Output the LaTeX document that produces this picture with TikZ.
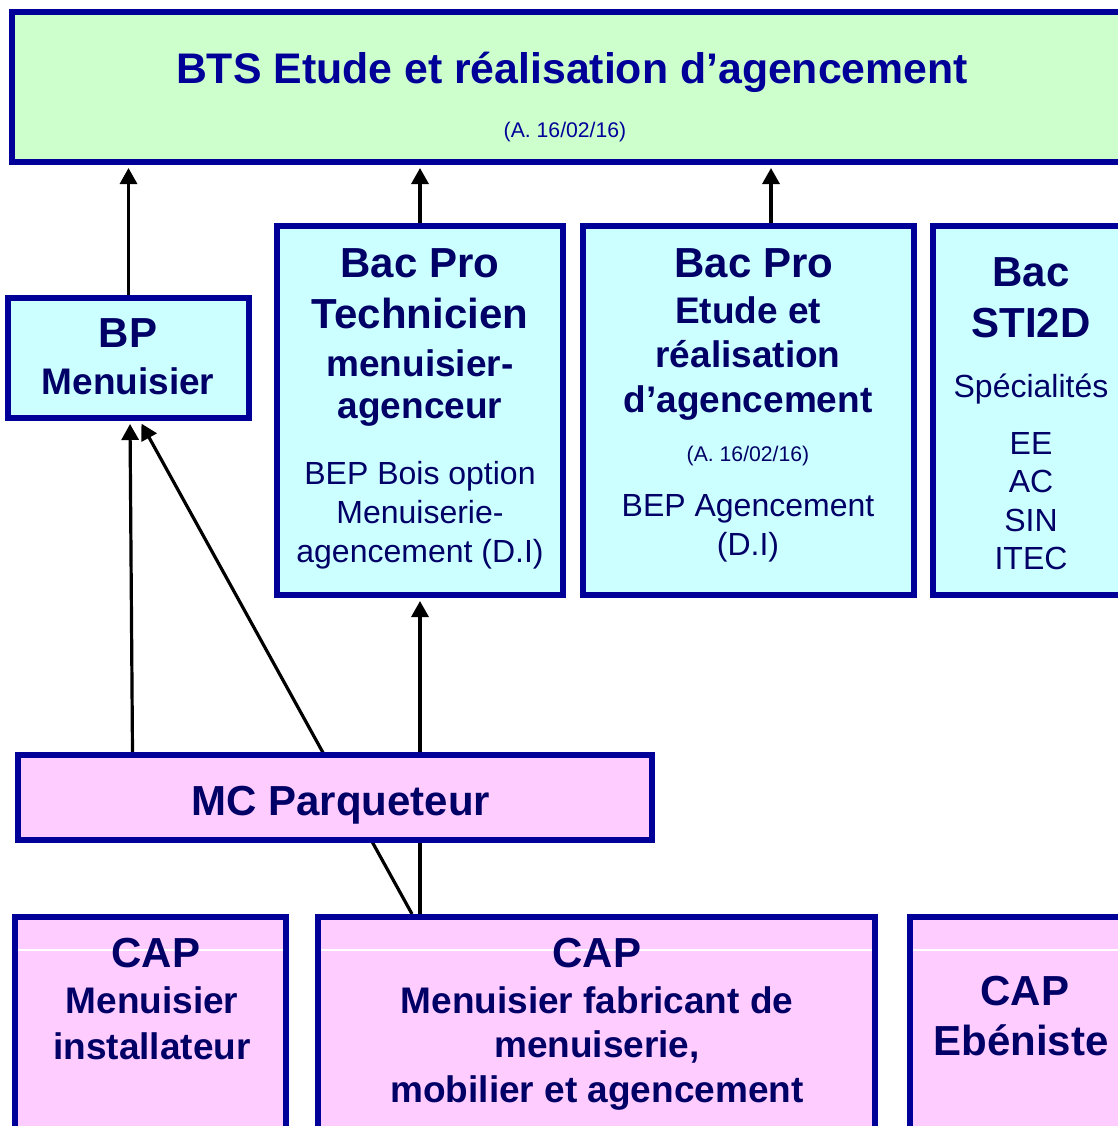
\documentclass[tikz,border=0pt]{standalone}
\usepackage{fontspec}
\setmainfont{Liberation Sans}
\usetikzlibrary{arrows.meta,positioning,backgrounds,calc}

\definecolor{frameblue}{RGB}{0,0,153}
\definecolor{titleblue}{RGB}{0,0,153}
\definecolor{inkblue}{RGB}{0,0,102}
\definecolor{btsgreen}{RGB}{204,255,204}
\definecolor{baccyan}{RGB}{204,255,255}
\definecolor{cappink}{RGB}{255,204,255}

\tikzset{
  box/.style={draw=frameblue, line width=3pt, inner sep=0pt, anchor=north west},
  dims/.style 2 args={minimum width=#1pt, minimum height=#2pt},
  hd/.style={font=\fontsize{21}{25}\selectfont\bfseries, text=inkblue, inner sep=0pt, anchor=base},
  sub/.style={hd, font=\fontsize{18.5}{22}\selectfont\bfseries},
  body/.style={hd, font=\fontsize{16}{19}\selectfont},
  note/.style={hd, font=\fontsize{10.6}{13}\selectfont},
  arr/.style={-{Triangle[length=8pt,width=8.5pt]}, line width=1.6pt, shorten >=1.5pt},
}

\begin{document}
\begin{tikzpicture}[x=0.5pt, y={(0pt,-0.5pt)}]
  \useasboundingbox (0,0) rectangle (1118,1126);
  \clip (0,0) rectangle (1118,1126);

  % boxes (outer corner, inner size)
  \node[box, fill=btsgreen, dims={562.5}{75}] (bts) at (9,9) {};
  \node[box, fill=baccyan, dims={120.5}{60}] (bp) at (5,295) {};
  \node[box, fill=baccyan, dims={143}{184.5}] (tech) at (274,223) {};
  \node[box, fill=baccyan, dims={165.5}{184.5}] (etude) at (580,223) {};
  \node[box, fill=baccyan, dims={102}{184.5}] (sti) at (930,223) {};
  \node[box, fill=cappink, dims={317}{42.5}] (mc) at (15,752) {};
  \node[box, fill=cappink, dims={135.5}{110}] (capi) at (12,914) {};
  \node[box, fill=cappink, dims={278.5}{110}] (capf) at (315,914) {};
  \node[box, fill=cappink, dims={113.5}{110}] (cape) at (907,914) {};

  % thin white rule in the CAP boxes
  \foreach \b in {capi,capf,cape}
    \draw[white, line width=.6pt] ($(\b.north west)+(6,36)$) -- ($(\b.north east)+(-6,36)$);

  % BTS
  \node[hd, text=titleblue, font=\fontsize{21.4}{25}\selectfont\bfseries] (bts-t) at (572,83) {BTS Etude et réalisation d’agencement};
  \node[note, text=titleblue] (bts-d) at (565,137) {(A. 16/02/16)};

  % Bac Pro Technicien
  \foreach \t/\y [count=\i] in {Bac Pro/277, Technicien/328}
    \node[hd] (tech-h\i) at (420,\y) {\t};
  \foreach \t/\y [count=\i] in {menuisier-/376, agenceur/418}
    \node[sub] (tech-s\i) at (420,\y) {\t};
  \foreach \t/\y [count=\i] in {BEP Bois option/484, Menuiserie-/523, {agencement (D.I)}/562}
    \node[body] (tech-b\i) at (420,\y) {\t};

  % Bac Pro Etude
  \node[hd] (etude-h1) at (754,277) {Bac Pro};
  \foreach \t/\y [count=\i] in {Etude et/323, réalisation/367, d’agencement/412}
    \node[sub] (etude-s\i) at (748,\y) {\t};
  \node[note] (etude-d) at (748,461) {(A. 16/02/16)};
  \foreach \t/\y [count=\i] in {BEP Agencement/516, {(D.I)}/555}
    \node[body] (etude-b\i) at (748,\y) {\t};

  % Bac STI2D
  \foreach \t/\y [count=\i] in {Bac/286, STI2D/337}
    \node[hd] (sti-h\i) at (1031,\y) {\t};
  \foreach \t/\y [count=\i] in {Spécialités/397, EE/454, AC/492, SIN/531, ITEC/569}
    \node[body] (sti-b\i) at (1031,\y) {\t};

  % BP, MC
  \node[hd] (bp-h) at (128,347) {BP};
  \node[sub] (bp-s) at (128,394) {Menuisier};
  \node[hd] (mc-h) at (341,815) {MC Parqueteur};

  % CAP
  \node[hd] (capi-h) at (156,967) {CAP};
  \foreach \t/\y [count=\i] in {Menuisier/1013, installateur/1059}
    \node[sub] (capi-s\i) at (152,\y) {\t};
  \node[hd] (capf-h) at (597,967) {CAP};
  \foreach \t/\y [count=\i] in {Menuisier fabricant de/1013, {menuiserie,}/1057, mobilier et agencement/1102}
    \node[sub] (capf-s\i) at (597,\y) {\t};
  \node[hd] (cape-h) at (1025,1005) {CAP};
  \node[hd] (cape-s) at (1021,1055) {Ebéniste};

  % connectors, behind the boxes
  \begin{scope}[on background layer]
    \draw[arr] (bp.north) -- (bp.north |- bts.south);
    \draw[arr] (tech.north) -- (tech.north |- bts.south);
    \draw[arr] ($(etude.north)+(22.5,0)$) -- ($(etude.north |- bts.south)+(22.5,0)$);
    \draw[arr] ($(bp.south |- mc.north)+(4,0)$) -- ($(bp.south)+(1.5,0)$);
    \draw[arr] ($(tech.south |- capf.north)+(-8,0)$) -- ($(bp.south)+(11.5,0)$);
    \draw[arr] (tech.south |- capf.north) -- (tech.south);
  \end{scope}
\end{tikzpicture}
\end{document}
